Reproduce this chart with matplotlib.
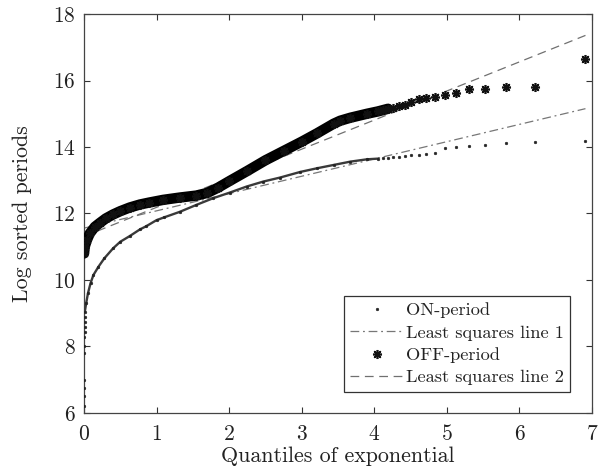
import matplotlib
matplotlib.use("Agg")
import matplotlib.pyplot as plt
import numpy as np

plt.rcParams['font.family'] = ['cmr10', 'DejaVu Serif']
plt.rcParams['mathtext.fontset'] = 'cm'
plt.rcParams['axes.formatter.use_mathtext'] = True

# ON-period: exponential quantiles vs log sorted periods
on_x = [0.001, 0.002, 0.003, 0.004, 0.005, 0.006, 0.007, 0.008, 0.009, 0.010, 0.011, 0.012,
        0.03, 0.055, 0.09, 0.13, 0.20, 0.28, 0.40, 0.50, 0.63, 0.77, 0.86, 1.00, 1.10,
        1.32, 1.55, 1.78, 2.01, 2.24, 2.47, 2.70, 2.98, 3.21, 3.44, 3.67, 3.90, 4.05,
        4.12, 4.19, 4.26, 4.34, 4.42, 4.51, 4.61, 4.71, 4.83, 4.97, 5.12, 5.30, 5.52,
        5.81, 6.21, 6.91]
on_y = [6.20, 6.50, 6.75, 7.00, 7.80, 8.00, 8.30, 8.45, 8.60, 8.75, 8.90, 9.05,
        9.30, 9.60, 9.90, 10.15, 10.40, 10.65, 10.95, 11.15, 11.32, 11.52, 11.62, 11.80, 11.88,
        12.05, 12.26, 12.46, 12.63, 12.81, 12.96, 13.08, 13.25, 13.36, 13.46, 13.56, 13.63, 13.65,
        13.66, 13.68, 13.70, 13.71, 13.73, 13.75, 13.77, 13.79, 13.81, 13.97, 13.99, 14.03, 14.05,
        14.13, 14.16, 14.19]

# OFF-period
off_x = [0.001, 0.01, 0.04, 0.08, 0.15, 0.22, 0.30, 0.40, 0.50, 0.63, 0.77, 0.90, 1.09,
         1.32, 1.55, 1.70, 1.85, 2.00, 2.25, 2.50, 2.75, 3.00, 3.21, 3.44, 3.53, 3.67,
         3.90, 4.05, 4.12, 4.19, 4.26, 4.34, 4.42, 4.51, 4.61, 4.71, 4.83, 4.97, 5.12,
         5.30, 5.52, 5.81, 6.21, 6.91]
off_y = [10.80, 11.00, 11.20, 11.40, 11.60, 11.72, 11.85, 11.97, 12.07, 12.18, 12.27, 12.33, 12.41,
         12.48, 12.54, 12.62, 12.78, 12.97, 13.28, 13.60, 13.88, 14.16, 14.41, 14.70, 14.79, 14.88,
         15.00, 15.07, 15.11, 15.15, 15.18, 15.22, 15.26, 15.36, 15.43, 15.48, 15.51, 15.55, 15.61,
         15.74, 15.74, 15.81, 15.81, 16.64]

# Least squares lines (intercept, slope) and x range
ls1 = (11.56, 0.52)
ls2 = (11.31, 0.875)
ls_x = [0.0, 6.91]

x_ticks = [0, 1, 2, 3, 4, 5, 6, 7]
y_ticks = [6, 8, 10, 12, 14, 16, 18]

fig = plt.figure(figsize=(6.05, 4.70), dpi=100)
ax = fig.add_axes([0.1388, 0.1213, 0.8397, 0.8489])

on_x_a = np.array(on_x); on_y_a = np.array(on_y)
off_x_a = np.array(off_x); off_y_a = np.array(off_y)

# dense body rendered as continuous band
m_on = (on_x_a >= 0.012) & (on_x_a <= 4.1)
ax.plot(on_x_a[m_on], on_y_a[m_on], '-', color='#3a3a3a', lw=1.7, zorder=3)
m_off = off_x_a <= 4.2
ax.plot(off_x_a[m_off], off_y_a[m_off], '-', color='black', lw=7.5,
        solid_capstyle='round', zorder=4)

h_on, = ax.plot(on_x, on_y, linestyle='none', marker='o', markersize=1.9,
                color='#222222', mec='#222222', mew=0.4, label='ON-period', zorder=3)
lx = np.array(ls_x)
h_l1, = ax.plot(lx, ls1[0] + ls1[1] * lx, color='#777777', lw=0.9,
                dashes=[7, 3, 1.5, 3], label='Least squares line 1', zorder=2)
h_off, = ax.plot(off_x, off_y, linestyle='none', marker=(8, 2, 0), markersize=6.5,
                 color='#111111', mec='#111111', mew=1.2, label='OFF-period', zorder=4)
h_l2, = ax.plot(lx, ls2[0] + ls2[1] * lx, color='#707070', lw=0.9,
                dashes=[7, 4.5], label='Least squares line 2', zorder=2)

ax.set_xlim(0, 7)
ax.set_ylim(6, 18)
ax.set_xticks(x_ticks)
ax.set_yticks(y_ticks)
ax.tick_params(direction='in', top=True, right=True, length=4, width=0.8,
               colors='#333333', labelsize=15.5, labelcolor='#222222')
ax.tick_params(axis='x', pad=8)
ax.tick_params(axis='y', pad=6)
for s in ax.spines.values():
    s.set_color('#444444')
    s.set_linewidth(0.9)

ax.set_xlabel('Quantiles of exponential', fontsize=15.8, color='#222222', labelpad=2)
ax.set_ylabel('Log sorted periods', fontsize=15.8, color='#222222', labelpad=15)

leg = ax.legend(handles=[h_on, h_l1, h_off, h_l2], loc='lower right',
                bbox_to_anchor=(0.957, 0.053), borderaxespad=0, fontsize=13.2,
                fancybox=False, edgecolor='#333333', framealpha=1,
                handlelength=2.9, handletextpad=0.15, labelspacing=0.36,
                borderpad=0.35, markerscale=1.0)
leg.get_frame().set_linewidth(0.9)
for t in leg.get_texts():
    t.set_color('#222222')

fig.savefig('out.png', dpi=100)
